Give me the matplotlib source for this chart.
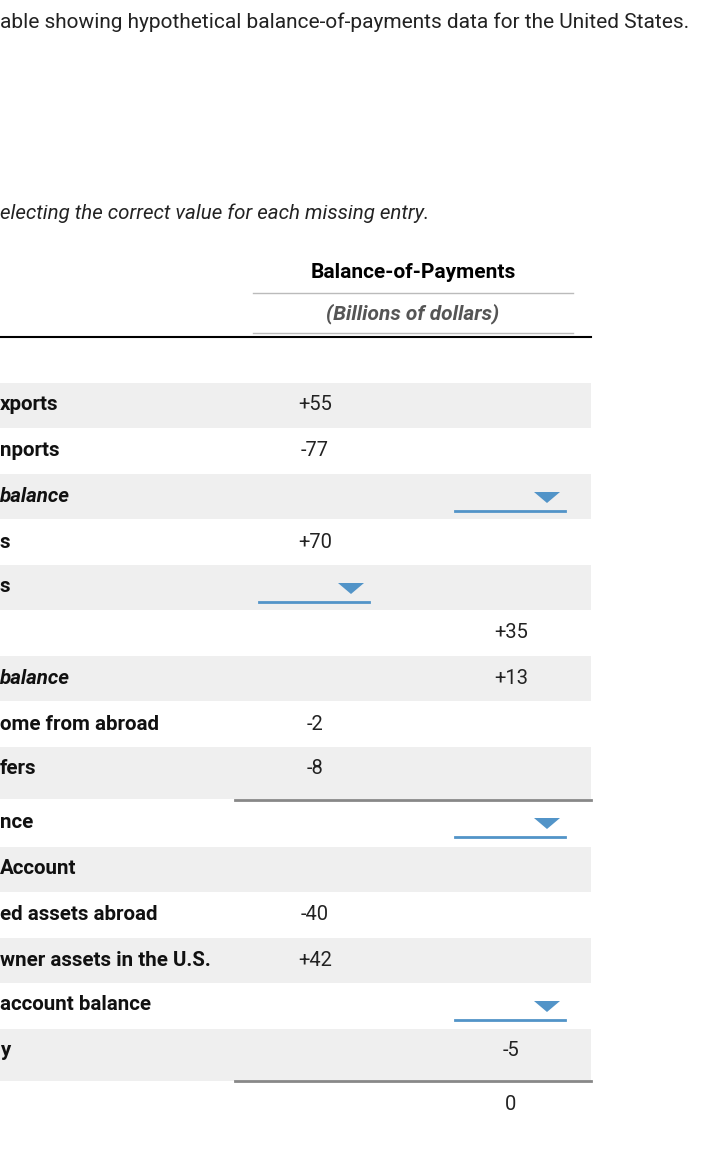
import matplotlib
matplotlib.use("Agg")
import matplotlib.pyplot as plt
from matplotlib.patches import Rectangle, Polygon

plt.rcParams["font.family"] = "Roboto"

TITLE = "able showing hypothetical balance-of-payments data for the United States."
PROMPT = "electing the correct value for each missing entry."
HEADER = "Balance-of-Payments"
SUBHEADER = "(Billions of dollars)"

# None = blank, "?" = dropdown
labels = ["xports", "nports", "balance", "s", "s", "", "balance", "ome from abroad",
          "fers", "nce", "Account", "ed assets abroad", "wner assets in the U.S.",
          "account balance", "y", ""]
italic = [False, False, True, False, False, False, True, False,
          False, False, False, False, False, False, False, False]
col1 = ["+55", "-77", None, "+70", "?", None, None, "-2",
        "-8", None, None, "-40", "+42", None, None, None]
col2 = [None, None, "?", None, None, "+35", "+13", None,
        None, "?", None, None, None, "?", "-5", "0"]
row_y = [405, 451, 496, 542, 587, 633, 678, 724, 769, 822, 869, 914, 960, 1005, 1051, 1105]
shaded = [True, False, True, False, True, False, True, False,
          True, False, True, False, True, False, True, False]

fig = plt.figure(figsize=(7.2, 11.71), dpi=100)
ax = fig.add_axes([0, 0, 1, 1])
ax.set_xlim(0, 720)
ax.set_ylim(1171, 0)
ax.axis("off")

ax.text(0, 22, TITLE, fontsize=15, va="center", color="#222")
ax.text(0, 213, PROMPT, fontsize=14.8, style="italic", va="center", color="#222")
ax.text(413, 273, HEADER, fontsize=15, weight="bold", ha="center", va="center")
ax.plot([253, 573], [293, 293], color="#bbb", lw=1)
ax.text(413, 314, SUBHEADER, fontsize=15, weight="bold", style="italic",
        ha="center", va="center", color="#555")
ax.plot([253, 573], [333, 333], color="#bbb", lw=1)
ax.plot([0, 591], [337, 337], color="black", lw=1.5)

def dropdown(x0, y):
    ax.plot([x0, x0 + 110], [y + 15, y + 15], color="#5294c8", lw=2)
    ax.add_patch(Polygon([[x0 + 79, y - 4], [x0 + 105, y - 4], [x0 + 92, y + 7]],
                         closed=True, color="#5294c8", lw=0))

for i, y in enumerate(row_y):
    if shaded[i]:
        bottom = 799 if i == 8 else (1081 if i == 14 else y + 23)
        ax.add_patch(Rectangle((0, y - 22), 591, bottom - (y - 22),
                               facecolor="#efefef", lw=0))
    ax.text(0, y, labels[i], fontsize=14.8, weight="bold", va="center",
            style="italic" if italic[i] else "normal", color="#111")
    for val, cx, x0 in ((col1[i], 315, 259), (col2[i], 511, 455)):
        if val == "?":
            dropdown(x0, y)
        elif val:
            ax.text(cx, y, val, fontsize=14.5, ha="center", va="center", color="#222")

ax.plot([235, 591], [800, 800], color="#888", lw=2)
ax.plot([235, 591], [1081, 1081], color="#888", lw=2)

fig.savefig("out.png", dpi=100)
